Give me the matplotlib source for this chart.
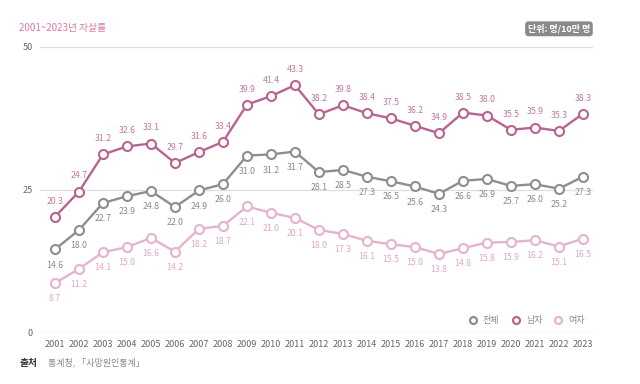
import matplotlib.pyplot as plt
from matplotlib.lines import Line2D

plt.rcParams['font.family'] = ['Noto Sans CJK KR', 'DejaVu Sans']

years = list(range(2001, 2024))
total = [14.6, 18.0, 22.7, 23.9, 24.8, 22.0, 24.9, 26.0, 31.0, 31.2, 31.7, 28.1,
         28.5, 27.3, 26.5, 25.6, 24.3, 26.6, 26.9, 25.7, 26.0, 25.2, 27.3]
male = [20.3, 24.7, 31.2, 32.6, 33.1, 29.7, 31.6, 33.4, 39.9, 41.4, 43.3, 38.2,
        39.8, 38.4, 37.5, 36.2, 34.9, 38.5, 38.0, 35.5, 35.9, 35.3, 38.3]
female = [8.7, 11.2, 14.1, 15.0, 16.6, 14.2, 18.2, 18.7, 22.1, 21.0, 20.1, 18.0,
          17.3, 16.1, 15.5, 15.0, 13.8, 14.8, 15.8, 15.9, 16.2, 15.1, 16.5]
yticks = [0, 25, 50]

c_total = "#8e8e8e"
c_male = "#b9648f"
c_female = "#e6b3cf"

fig = plt.figure(figsize=(6.4, 3.84), dpi=100)
ax = fig.add_axes([0.0625, 0.133, 0.864, 0.745])

for v in yticks:
    ax.axhline(v, color="#dedede", lw=0.9, zorder=0)

series = [
    (total, c_total, "#8a8a8a", -1),
    (male, c_male, "#c0799f", 1),
    (female, c_female, "#e0a9c6", -1),
]
for vals, col, tcol, side in series:
    ax.plot(years, vals, color=col, lw=1.7, marker="o", ms=6.5,
            mfc="white", mec=col, mew=1.5, zorder=3)
    for x, v in zip(years, vals):
        ax.annotate(f"{v:.1f}", (x, v), xytext=(0, 8 * side), textcoords="offset points",
                    ha="center", va="bottom" if side > 0 else "top",
                    fontsize=6.3, color=tcol)

ax.set_xlim(2000.375, 2023.42)
ax.set_ylim(0, 50)
ax.set_xticks(years)
ax.set_xticklabels([str(y) for y in years], fontsize=6.5, color="#666666")
ax.set_yticks(yticks)
ax.set_yticklabels([str(v) for v in yticks], fontsize=6.5, color="#666666")
ax.tick_params(length=0, pad=5)
for s in ax.spines.values():
    s.set_visible(False)

handles = [Line2D([], [], ls="none", marker="o", ms=5, mfc="white", mec=c, mew=1.6)
           for c in (c_total, c_male, c_female)]
leg = ax.legend(handles, ["전체", "남자", "여자"], loc="lower right", ncol=3,
                frameon=False, fontsize=6.5, handletextpad=0.1, columnspacing=0.8,
                bbox_to_anchor=(1.0, 0.0))
for t in leg.get_texts():
    t.set_color("#888888")

fig.text(0.03, 0.928, "2001~2023년 자살률", fontsize=7, color="#d77aa6", va="center")
fig.text(0.922, 0.925, "단위: 명/10만 명", fontsize=6.5, color="white", ha="right",
         va="center", fontweight="bold",
         bbox=dict(boxstyle="round,pad=0.3,rounding_size=0.4", fc="#8a8a8a", ec="none"))
fig.text(0.03, 0.055, "출처", fontsize=7, color="#333333", fontweight="bold", va="center")
fig.text(0.075, 0.055, "통계청, 「사망원인통계」", fontsize=6.5, color="#888888", va="center")

fig.savefig("out.png", dpi=100)
